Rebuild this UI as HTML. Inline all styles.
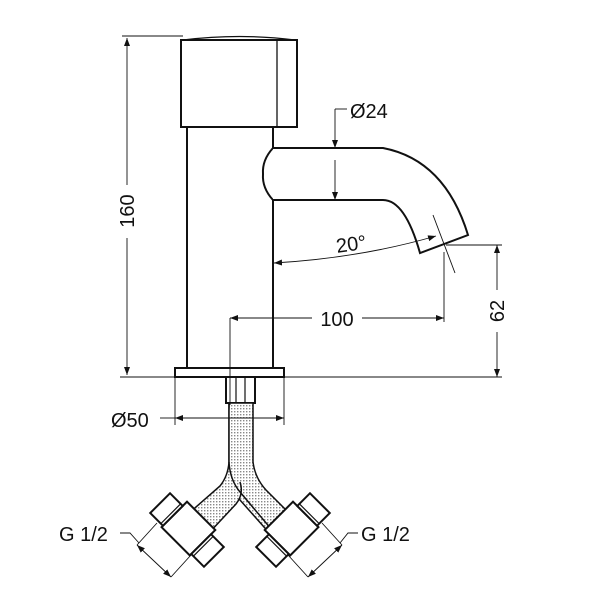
<!DOCTYPE html>
<html><head><meta charset="utf-8"><style>
html,body{margin:0;padding:0;background:#fff;}
svg{display:block;}
text{font-family:"Liberation Sans",sans-serif;fill:#111;}
</style></head><body>
<svg width="600" height="600" viewBox="0 0 600 600" xmlns="http://www.w3.org/2000/svg">
<defs>
<pattern id="h" width="3" height="3" patternUnits="userSpaceOnUse">
<rect width="3" height="3" fill="#fff"/>
<rect width="1.4" height="1.4" fill="#888"/>
</pattern>
<marker id="a" markerWidth="8" markerHeight="6" refX="8" refY="3" orient="auto-start-reverse" markerUnits="userSpaceOnUse">
<path d="M0,0 L8,3 L0,6 z" fill="#111"/>
</marker>
</defs>
<g fill="none" stroke="#111" stroke-width="2">
<rect x="181" y="40" width="116" height="87" fill="#fff"/>
<line x1="277" y1="40" x2="277" y2="127" stroke-width="1.3"/>
<path d="M183,40 Q240,33 295,40" stroke-width="1.2"/>
<line x1="187" y1="127" x2="187" y2="368"/>
<line x1="273" y1="127" x2="273" y2="148"/>
<line x1="273" y1="200" x2="273" y2="368"/>
<path d="M273,148 Q262,160 263,174 Q262,188 273,200"/>
<path d="M273,148 L383,148 Q445,160 468,235 L420,253 Q405,200 383,200 L273,200" fill="#fff"/>
<rect x="175" y="368" width="109" height="9" fill="#fff"/>
<rect x="226" y="377" width="29" height="26" fill="#fff"/>
<line x1="236" y1="377" x2="236" y2="403" stroke-width="1.2"/>
<line x1="245" y1="377" x2="245" y2="403" stroke-width="1.2"/>
<path d="M229,403 L253,403 L253,462 Q255,478 266,490 L292,516 L272,536 L240,500 Q232,492 231,478 L229,462 Z" fill="url(#h)" stroke-width="1.5"/>
<path d="M229,403 L229,462 Q228,476 220,486 L188,514 L208,534 L236,504 Q244,494 240,482" fill="url(#h)" stroke-width="1.5"/>
<path d="M229,462 Q230,480 240,492 L272,530" stroke-width="1.5"/>
<g transform="translate(187,530) rotate(45)" fill="#fff">
<rect x="-20" y="-20" width="40" height="36"/>
<rect x="-38" y="-14" width="18" height="28"/>
<rect x="20" y="-14" width="18" height="28"/>
<line x1="-23" y1="-14" x2="-23" y2="14" stroke-width="1.2"/>
<line x1="23" y1="-14" x2="23" y2="14" stroke-width="1.2"/>
</g>
<g transform="translate(293,530) rotate(-45)" fill="#fff">
<rect x="-20" y="-20" width="40" height="36"/>
<rect x="-38" y="-14" width="18" height="28"/>
<rect x="20" y="-14" width="18" height="28"/>
<line x1="-23" y1="-14" x2="-23" y2="14" stroke-width="1.2"/>
<line x1="23" y1="-14" x2="23" y2="14" stroke-width="1.2"/>
</g>
</g>
<g fill="none" stroke="#111" stroke-width="0.9">
<line x1="122" y1="36" x2="183" y2="36"/>
<line x1="127" y1="38" x2="127" y2="185" marker-start="url(#a)"/>
<line x1="127" y1="238" x2="127" y2="375" marker-end="url(#a)"/>
<line x1="120" y1="377" x2="502" y2="377"/>
<line x1="347" y1="109" x2="335" y2="109"/>
<line x1="335" y1="109" x2="335" y2="148" marker-end="url(#a)"/>
<line x1="335" y1="160" x2="335" y2="200" marker-end="url(#a)"/>
<path d="M274,263 Q360,258 436,236" marker-start="url(#a)" marker-end="url(#a)"/>
<line x1="433" y1="215" x2="455" y2="273"/>
<line x1="444" y1="252" x2="444" y2="322"/>
<line x1="230" y1="318" x2="230" y2="405"/>
<line x1="230" y1="318" x2="312" y2="318" marker-start="url(#a)"/>
<line x1="362" y1="318" x2="444" y2="318" marker-end="url(#a)"/>
<line x1="446" y1="245" x2="502" y2="245"/>
<line x1="497" y1="245" x2="497" y2="290" marker-start="url(#a)"/>
<line x1="497" y1="332" x2="497" y2="377" marker-end="url(#a)"/>
<line x1="175" y1="377" x2="175" y2="425"/>
<line x1="284" y1="377" x2="284" y2="425"/>
<line x1="160" y1="418" x2="175" y2="418"/>
<line x1="175" y1="418" x2="284" y2="418" marker-start="url(#a)" marker-end="url(#a)"/>
<polyline points="120,533 130,533 139,543"/>
<line x1="137" y1="545" x2="171" y2="577" marker-start="url(#a)" marker-end="url(#a)"/>
<line x1="137" y1="545" x2="157" y2="523"/>
<line x1="171" y1="577" x2="191" y2="555"/>
<polyline points="358,533 348,533 340,543"/>
<line x1="342" y1="545" x2="308" y2="577" marker-start="url(#a)" marker-end="url(#a)"/>
<line x1="342" y1="545" x2="322" y2="523"/>
<line x1="308" y1="577" x2="288" y2="555"/>
</g>
<text x="350" y="118" font-size="20">Ø24</text>
<text x="336" y="251" font-size="20" transform="rotate(-8 350 244)">20°</text>
<text x="337" y="326" font-size="20" text-anchor="middle">100</text>
<text x="111" y="427" font-size="20">Ø50</text>
<text x="59" y="541" font-size="20">G 1/2</text>
<text x="361" y="541" font-size="20">G 1/2</text>
<text font-size="20" text-anchor="middle" transform="translate(134,211) rotate(-90)">160</text>
<text font-size="20" text-anchor="middle" transform="translate(504,311) rotate(-90)">62</text>
</svg>
</body></html>
